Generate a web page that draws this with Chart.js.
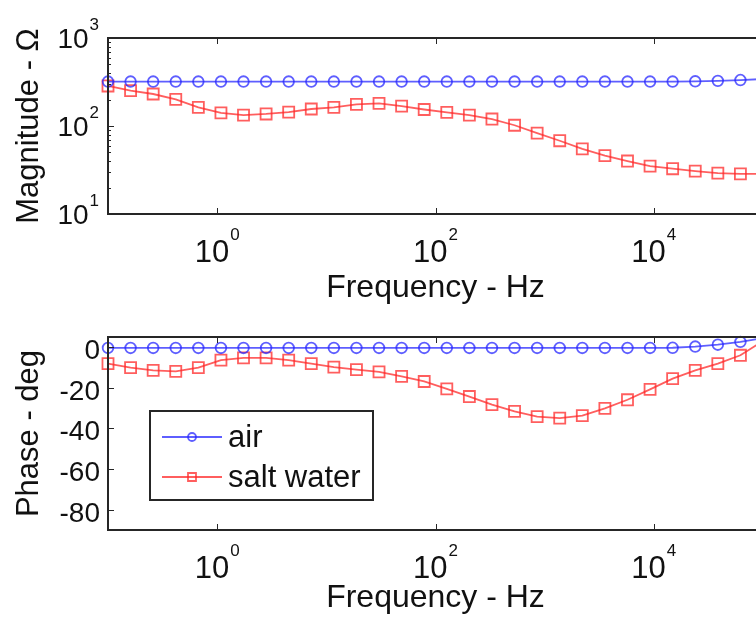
<!DOCTYPE html>
<html>
<head>
<meta charset="utf-8">
<title>Magnitude and phase</title>
<script src="https://cdn.jsdelivr.net/npm/chart.js@4.4.1/dist/chart.umd.min.js"></script>
<style>
    html, body { margin: 0; padding: 0; background: #fff; overflow: hidden; }
    body { width: 756px; height: 620px; position: relative; }
    canvas { position: absolute; left: 0; }
    #magChart { top: 0; }
    #phaseChart { top: 310px; }
</style>
</head>
<body>
<canvas id="magChart" width="800" height="310"></canvas>
<canvas id="phaseChart" width="800" height="310"></canvas>
<script>
'use strict';

// Data
var freq = [0.1, 0.161, 0.2593, 0.4175, 0.6723, 1.083, 1.743, 2.807, 4.520, 7.279,
    11.72, 18.87, 30.39, 48.94, 78.80, 126.9, 204.3, 329.0, 529.8, 853.2,
    1374, 2212, 3562, 5737, 9237, 14870, 23950, 38570, 62110, 100000];

var airMag = [320, 320, 320, 320, 320, 320, 320, 320, 320, 320,
    320, 320, 320, 320, 320, 320, 320, 320, 320, 320,
    320, 320, 320, 320, 320, 320, 322, 326, 333, 342];
var saltMag = [285, 252, 231, 201, 163, 141, 133, 137, 144, 156,
    163, 176, 181, 168, 154, 143, 133, 120, 102, 83,
    68, 55, 46, 40, 35, 32.7, 30.7, 29.1, 28.6, 28.5];

var airPhase = [-0.4, -0.4, -0.4, -0.4, -0.4, -0.4, -0.4, -0.4, -0.4, -0.4,
    -0.4, -0.4, -0.4, -0.4, -0.4, -0.4, -0.4, -0.4, -0.4, -0.4,
    -0.4, -0.4, -0.4, -0.4, -0.4, -0.3, 0.3, 1.2, 2.6, 4.5];
var saltPhase = [-8.1, -10.1, -11.4, -11.9, -10.1, -6.4, -5.3, -5.3, -6.4, -8.1,
    -9.8, -11.1, -12.2, -14.4, -16.9, -20.5, -24.3, -28.3, -31.6, -34.2,
    -34.9, -33.7, -30.1, -25.9, -20.8, -15.5, -11.4, -8.1, -4.0, 3];

var seriesNames = ['air', 'salt water'];

// Ticks
var freqTicks = [1, 100, 10000];
var freqTickExp = ['0', '2', '4'];
var magTicks = [10, 100, 1000];
var magTickExp = ['1', '2', '3'];
var magMinorTicks = [20, 30, 40, 50, 60, 70, 80, 90, 200, 300, 400, 500, 600, 700, 800, 900];
var phaseTicks = [0, -20, -40, -60, -80];
var phaseTickLabels = ['0', '-20', '-40', '-60', '-80'];

var BLUE = 'rgba(40, 40, 255, 0.75)';
var RED = 'rgba(255, 40, 40, 0.75)';
var AXIS = '#262626';
var FONT = '"Liberation Sans", Arial, Helvetica, sans-serif';

function toPoints(xs, ys) {
    var out = [];
    for (var i = 0; i < xs.length; i++) {
        out.push({ x: xs[i], y: ys[i] });
    }
    return out;
}

function airDataset(values) {
    return {
        label: seriesNames[0],
        data: toPoints(freq, values),
        borderColor: BLUE,
        borderWidth: 1.8,
        pointStyle: 'circle',
        pointRadius: 5.3,
        pointBorderWidth: 1.8,
        pointBorderColor: BLUE,
        pointBackgroundColor: 'transparent',
        clip: false
    };
}

function saltDataset(values) {
    return {
        label: seriesNames[1],
        data: toPoints(freq, values),
        borderColor: RED,
        borderWidth: 1.8,
        pointStyle: 'rect',
        pointRadius: 7.8,
        pointBorderWidth: 1.8,
        pointBorderColor: RED,
        pointBackgroundColor: 'transparent',
        clip: false
    };
}

// box, inward ticks and "10^n" labels drawn from the chart's scales
function frameAndTicks(yTicks, yLabels, yExp, yMinor) {
    return {
        id: 'frameAndTicks',
        afterDraw: function (chart) {
            var ctx = chart.ctx;
            var a = chart.chartArea;
            var x = chart.scales.x;
            var y = chart.scales.y;

            ctx.save();
            ctx.strokeStyle = AXIS;
            ctx.lineWidth = 1;
            ctx.beginPath();
            freqTicks.forEach(function (v) {
                var px = Math.round(x.getPixelForValue(v)) + 0.5;
                ctx.moveTo(px, a.bottom); ctx.lineTo(px, a.bottom - 6);
                ctx.moveTo(px, a.top); ctx.lineTo(px, a.top + 6);
            });
            yTicks.forEach(function (v) {
                var py = Math.round(y.getPixelForValue(v)) + 0.5;
                ctx.moveTo(a.left, py); ctx.lineTo(a.left + 6, py);
                ctx.moveTo(a.right, py); ctx.lineTo(a.right - 6, py);
            });
            (yMinor || []).forEach(function (v) {
                var py = Math.round(y.getPixelForValue(v)) + 0.5;
                ctx.moveTo(a.left, py); ctx.lineTo(a.left + 3, py);
                ctx.moveTo(a.right, py); ctx.lineTo(a.right - 3, py);
            });
            ctx.stroke();

            ctx.lineWidth = 2;
            ctx.strokeRect(a.left, a.top, a.right - a.left, a.bottom - a.top);

            // x labels
            ctx.fillStyle = '#111';
            ctx.textBaseline = 'alphabetic';
            ctx.textAlign = 'left';
            freqTicks.forEach(function (v, i) {
                var px = x.getPixelForValue(v);
                ctx.font = '31px ' + FONT;
                var w1 = ctx.measureText('10').width;
                ctx.font = '17px ' + FONT;
                var w2 = ctx.measureText(freqTickExp[i]).width;
                var left = px - (w1 + w2 + 1) / 2;
                ctx.font = '31px ' + FONT;
                ctx.fillText('10', left, a.bottom + 48);
                ctx.font = '17px ' + FONT;
                ctx.fillText(freqTickExp[i], left + w1 + 1, a.bottom + 26);
            });

            // y labels
            ctx.textAlign = 'right';
            yTicks.forEach(function (v, i) {
                var py = y.getPixelForValue(v);
                if (yExp) {
                    ctx.font = '17px ' + FONT;
                    var w2 = ctx.measureText(yExp[i]).width;
                    ctx.fillText(yExp[i], 99, py - 8);
                    ctx.font = '28px ' + FONT;
                    ctx.fillText('10', 99 - w2 - 1, py + 10);
                } else {
                    ctx.font = '28px ' + FONT;
                    ctx.fillText(yLabels[i], 100, py + 12);
                }
            });
            ctx.restore();
        }
    };
}

// Legend inside the phase plot
var boxLegend = {
    id: 'boxLegend',
    afterDraw: function (chart) {
        var ctx = chart.ctx;
        ctx.save();
        ctx.fillStyle = '#fff';
        ctx.fillRect(150, 101, 223, 89);
        ctx.strokeStyle = AXIS;
        ctx.lineWidth = 2;
        ctx.strokeRect(150, 101, 223, 89);

        var rows = [
            { color: BLUE, y: 127, style: 'circle' },
            { color: RED, y: 167, style: 'rect' }
        ];
        rows.forEach(function (r, i) {
            ctx.strokeStyle = r.color;
            ctx.lineWidth = 1.8;
            ctx.beginPath();
            ctx.moveTo(162, r.y);
            ctx.lineTo(222, r.y);
            ctx.stroke();
            ctx.beginPath();
            if (r.style === 'circle') {
                ctx.arc(192, r.y, 4, 0, Math.PI * 2);
            } else {
                ctx.rect(188, r.y - 4, 8, 8);
            }
            ctx.stroke();

            ctx.fillStyle = '#111';
            ctx.font = '31px ' + FONT;
            ctx.textAlign = 'left';
            ctx.textBaseline = 'alphabetic';
            ctx.fillText(seriesNames[i], 228, r.y + 10);
        });
        ctx.restore();
    }
};

function makeChart(id, datasets, yScale, yTitle, padTop, xHeight, plugins) {
    var ctx = document.getElementById(id).getContext('2d');
    yScale.ticks = { display: false };
    yScale.grid = { display: false };
    yScale.border = { display: false };
    yScale.title = {
        display: true,
        text: yTitle,
        color: '#111',
        font: { family: FONT, size: 31 },
        padding: { top: 11, bottom: 0 }
    };
    yScale.afterFit = function (scale) { scale.width = 108; };

    return new Chart(ctx, {
        type: 'line',
        data: { datasets: datasets },
        options: {
            responsive: false,
            animation: false,
            devicePixelRatio: 1,
            layout: { padding: { left: 0, top: padTop, right: 37, bottom: 0 } },
            plugins: { legend: { display: false }, tooltip: { enabled: false } },
            scales: {
                x: {
                    type: 'logarithmic',
                    min: 0.1,
                    max: 100000,
                    ticks: { display: false },
                    grid: { display: false },
                    border: { display: false },
                    title: {
                        display: true,
                        text: 'Frequency - Hz',
                        color: '#111',
                        font: { family: FONT, size: 32 },
                        padding: { top: 0, bottom: 3 }
                    },
                    afterFit: function (scale) { scale.height = xHeight; }
                },
                y: yScale
            }
        },
        plugins: plugins
    });
}

makeChart('magChart',
    [airDataset(airMag), saltDataset(saltMag)],
    { type: 'logarithmic', min: 10, max: 1000 },
    'Magnitude - Ω', 38, 96,
    [frameAndTicks(magTicks, null, magTickExp, magMinorTicks)]);

makeChart('phaseChart',
    [airDataset(airPhase), saltDataset(saltPhase)],
    { type: 'linear', min: -90, max: 5 },
    'Phase - deg', 27, 90,
    [frameAndTicks(phaseTicks, phaseTickLabels, null, null), boxLegend]);
</script>
</body>
</html>
